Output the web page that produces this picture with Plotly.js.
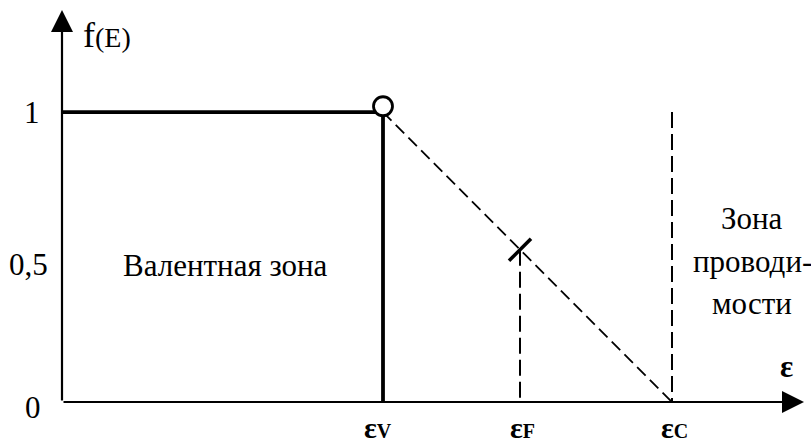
<!DOCTYPE html>
<html>
<head>
<meta charset="utf-8">
<script src="https://cdn.plot.ly/plotly-3.0.1.min.js"></script>
<style>html,body{margin:0;padding:0;background:#fff;}#chart{width:811px;height:445px;}</style>
</head>
<body>
<div id="chart"></div>
<script>
// Energies (arbitrary units)
const energyLevels = ['εV', 'εF', 'εC'];
const energyValues = [3.21, 4.58, 6.10];
const eAxisMax = 7.42;
const fAxisMax = 1.352;
// distribution values
const fFilled = [1, 1];           // f = 1 up to εV
const fDiag = [1, 0];             // dashed drop from εV to εC
const fAtFermi = 0.525;           // mark on the dashed line at εF
const circleF = 1.02;
const yTickVals = [1, 0.5, 0];
const yTickText = ['1', '0,5', '0'];

const [eV, eF, eC] = energyValues;
const serif = 'Liberation Serif, Times New Roman, serif';
const FS = 31;

const traces = [
  {x: [0, eV], y: fFilled, mode: 'lines', line: {color: '#000', width: 3.8}, hoverinfo: 'skip'},
  {x: [eV, eV], y: [fFilled[1], 0], mode: 'lines', line: {color: '#000', width: 3.8}, hoverinfo: 'skip'},
  {x: [eV, eC], y: fDiag, mode: 'lines', line: {color: '#000', width: 1.8, dash: '12px,6px'}, hoverinfo: 'skip'},
  {x: [eF, eF], y: [fAtFermi, 0], mode: 'lines', line: {color: '#000', width: 2, dash: '16px,6px'}, hoverinfo: 'skip'},
  {x: [eC, eC], y: [1, 0], mode: 'lines', line: {color: '#000', width: 2, dash: '16px,6px'}, hoverinfo: 'skip'},
  {x: [eF], y: [fAtFermi], mode: 'markers', marker: {symbol: 'line-ne', size: 22, line: {color: '#000', width: 3.5}}, hoverinfo: 'skip'},
  {x: [eV], y: [circleF], mode: 'markers', marker: {symbol: 'circle', size: 19, color: '#fff', line: {color: '#000', width: 2.8}}, hoverinfo: 'skip'}
];

const annotations = [
  // axes with arrows
  {x: 0, y: fAxisMax, ax: 0, ay: 0, xref: 'x', yref: 'y', axref: 'x', ayref: 'y', text: '', showarrow: true,
   arrowhead: 2, arrowsize: 2, arrowwidth: 2.2, arrowcolor: '#000', standoff: 0, startstandoff: 0},
  {x: eAxisMax, y: 0, ax: 0, ay: 0, xref: 'x', yref: 'y', axref: 'x', ayref: 'y', text: '', showarrow: true,
   arrowhead: 2, arrowsize: 2, arrowwidth: 2.2, arrowcolor: '#000', standoff: 0, startstandoff: 0},
  {x: 0.45, y: 1.265, xref: 'x', yref: 'y', showarrow: false, xanchor: 'center',
   text: 'f<span style="font-size:28px">(E)</span>', font: {family: serif, size: 36, color: '#000'}},
  {x: 6.9, y: 0.634, xref: 'x', yref: 'y', showarrow: false, text: 'Зона', font: {family: serif, size: FS, color: '#000'}},
  {x: 6.9, y: 0.486, xref: 'x', yref: 'y', showarrow: false, text: 'проводи-', font: {family: serif, size: FS, color: '#000'}},
  {x: 6.9, y: 0.341, xref: 'x', yref: 'y', showarrow: false, text: 'мости', font: {family: serif, size: FS, color: '#000'}},
  {x: 1.63, y: 0.472, xref: 'x', yref: 'y', showarrow: false, text: 'Валентная зона', font: {family: serif, size: FS, color: '#000'}},
  {x: 7.24, y: 0.124, xref: 'x', yref: 'y', showarrow: false, text: '<b>ε</b>', font: {family: serif, size: 31, color: '#000'}}
];
const tickX = [-0.0404, -0.0445, -0.039];
const tickShift = [0, -7, -5];
yTickText.forEach((t, i) => annotations.push({x: tickX[i], y: yTickVals[i], xref: 'paper', yref: 'y', showarrow: false,
  xanchor: 'center', yanchor: 'middle',
  yshift: tickShift[i], text: t, font: {family: serif, size: FS, color: '#000'}}));
const labShift = [-5, 2, 2];
energyLevels.forEach((lab, i) => annotations.push({x: energyValues[i], y: -0.066, xref: 'x', yref: 'paper', showarrow: false,
  xshift: labShift[i], xanchor: 'center', yanchor: 'middle',
  text: '<b>' + lab[0] + '<span style="font-size:20px">' + lab.slice(1) + '</span></b>',
  font: {family: serif, size: 30, color: '#000'}}));

const layout = {
  width: 811, height: 445,
  margin: {l: 62, r: 7, t: 10, b: 43},
  paper_bgcolor: '#fff', plot_bgcolor: '#fff',
  showlegend: false,
  xaxis: {range: [0, eAxisMax], showgrid: false, zeroline: false, showticklabels: false, ticks: '', showline: false, fixedrange: true},
  yaxis: {range: [0, fAxisMax], showgrid: false, zeroline: false, showticklabels: false, ticks: '', showline: false, fixedrange: true},
  annotations: annotations
};
Plotly.newPlot('chart', traces, layout, {staticPlot: true, displayModeBar: false});
</script>
</body>
</html>
